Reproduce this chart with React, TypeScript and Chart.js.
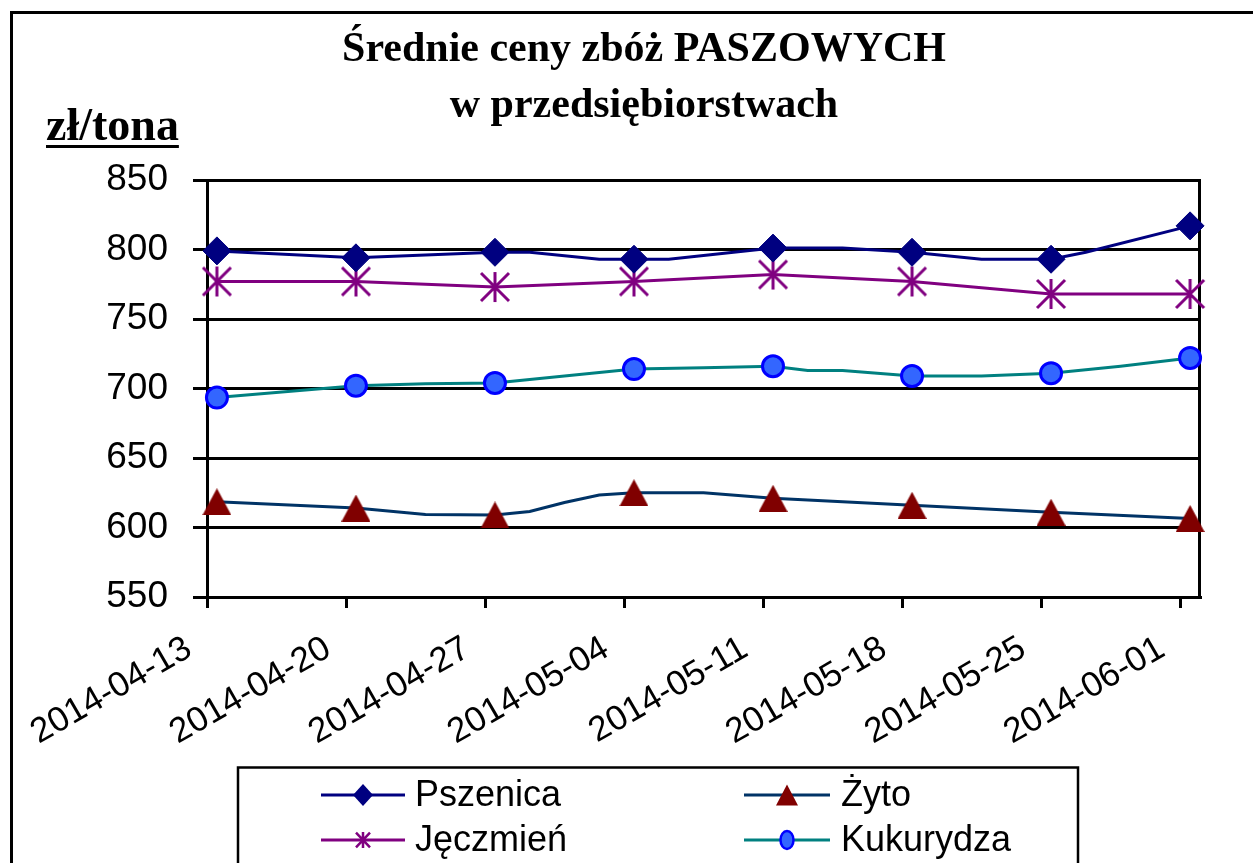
import React, { useEffect, useRef } from 'react';
import { Chart, registerables } from 'chart.js';

Chart.register(...registerables);

// ---- data ----
const dateLabels = ['2014-04-13', '2014-04-20', '2014-04-27', '2014-05-04', '2014-05-11', '2014-05-18', '2014-05-25', '2014-06-01'];
const yTickValues = [550, 600, 650, 700, 750, 800, 850];
const seriesNames = ['Pszenica', 'Żyto', 'Jęczmień', 'Kukurydza'];

// weekly values (markers), zł/tona
const pszenica = [799, 794, 798, 793, 801, 798, 793, 817];
const zyto = [618.5, 614, 609, 625, 621, 616, 611, 606.5];
const jeczmien = [777, 777, 773, 777, 782, 777, 768, 768];
const kukurydza = [693.5, 702, 704, 714, 716, 709, 711, 722];

// visible bends of the lines between markers: [week position, value]
const pszenicaBends = [[2.25, 798], [2.75, 793], [3.25, 793], [4.5, 801], [5.5, 793], [6.25, 798]];
const zytoBends = [[1.5, 609.3], [2.25, 611.5], [2.5, 618], [2.75, 623.3], [3.25, 625], [3.5, 625]];
const jeczmienBends: number[][] = [];
const kukurydzaBends = [[1.5, 703.5], [3.5, 715], [4.25, 713], [4.5, 713], [5.5, 709], [6.5, 716]];

const DAY = 86400000;
const baseTime = Date.parse(dateLabels[0]);
const dayOf = (d: string) => (Date.parse(d) - baseTime) / DAY;

function buildPoints(weekly: number[], bends: number[][]) {
  // a date axis: each value sits in the middle of its day slot
  const pts = weekly.map((v, i) => ({ x: dayOf(dateLabels[i]) + 0.5, y: v, m: 1 }));
  bends.forEach(([w, v]) => pts.push({ x: w * 7 + 0.5, y: v, m: 0 }));
  return pts.sort((a, b) => a.x - b.x);
}

// ---- marker drawing helpers ----
function pathTriangle(g: CanvasRenderingContext2D, cx: number, cy: number, w: number, h: number, color: string) {
  g.save();
  g.fillStyle = color;
  g.beginPath();
  g.moveTo(cx, cy - h / 2);
  g.lineTo(cx + w / 2, cy + h / 2);
  g.lineTo(cx - w / 2, cy + h / 2);
  g.closePath();
  g.fill();
  g.restore();
}
function pathAsterisk(g: CanvasRenderingContext2D, cx: number, cy: number, hx: number, hy: number, color: string, lw: number) {
  g.save();
  g.strokeStyle = color;
  g.lineWidth = lw;
  g.beginPath();
  g.moveTo(cx, cy - hy);
  g.lineTo(cx, cy + hy);
  g.moveTo(cx - hx, cy - hy * 0.93);
  g.lineTo(cx + hx, cy + hy * 0.93);
  g.moveTo(cx + hx, cy - hy * 0.93);
  g.lineTo(cx - hx, cy + hy * 0.93);
  g.stroke();
  g.restore();
}
function pathDiamond(g: CanvasRenderingContext2D, cx: number, cy: number, rx: number, ry: number, color: string) {
  g.save();
  g.fillStyle = color;
  g.beginPath();
  g.moveTo(cx, cy - ry);
  g.lineTo(cx + rx, cy);
  g.lineTo(cx, cy + ry);
  g.lineTo(cx - rx, cy);
  g.closePath();
  g.fill();
  g.restore();
}
function pathEllipse(g: CanvasRenderingContext2D, cx: number, cy: number, rx: number, ry: number, fill: string, stroke: string, lw: number) {
  g.save();
  g.fillStyle = fill;
  g.strokeStyle = stroke;
  g.lineWidth = lw;
  g.beginPath();
  g.ellipse(cx, cy, rx, ry, 0, 0, Math.PI * 2);
  g.fill();
  g.stroke();
  g.restore();
}
function markerImage(w: number, h: number, draw: (g: CanvasRenderingContext2D) => void) {
  const c = document.createElement('canvas');
  c.width = w;
  c.height = h;
  draw(c.getContext('2d') as CanvasRenderingContext2D);
  return c;
}

const COLORS = {
  pszenica: '#000080',
  zytoLine: '#003366',
  zytoMark: '#800000',
  jeczmien: '#800080',
  kukLine: '#008080',
  kukFill: '#3366FF',
  kukStroke: '#0000FF',
};

const SANS = "'Liberation Sans', Arial, sans-serif";
const SERIF = "'Liberation Serif', 'Times New Roman', serif";

const decor = {
  id: 'decor',
  beforeDraw(chart: any) {
    const g = chart.ctx as CanvasRenderingContext2D;
    g.save();
    g.fillStyle = '#fff';
    g.fillRect(0, 0, chart.width, chart.height);
    g.restore();
  },
  beforeDatasetsDraw(chart: any) {
    const g = chart.ctx as CanvasRenderingContext2D;
    const a = chart.chartArea;
    g.save();
    g.strokeStyle = '#000';
    g.lineWidth = 3;
    g.beginPath();
    g.moveTo(a.right - 0.5, a.top - 1);
    g.lineTo(a.right - 0.5, a.bottom + 1);
    g.stroke();
    g.restore();
  },
  afterDraw(chart: any) {
    const g = chart.ctx as CanvasRenderingContext2D;
    g.save();
    // outer frame
    g.strokeStyle = '#000';
    g.lineWidth = 3;
    g.strokeRect(11.5, 12.5, 1400, 1000);

    // unit label
    g.fillStyle = '#000';
    g.font = `bold 46px ${SERIF}`;
    g.textBaseline = 'alphabetic';
    g.textAlign = 'left';
    const unit = 'zł/tona';
    g.fillText(unit, 46, 140);
    const uw = g.measureText(unit).width;
    g.fillRect(46, 145, uw, 3);

    // legend box
    g.lineWidth = 2.5;
    g.strokeRect(238, 767.5, 840, 300);
    const ds = chart.data.datasets;
    g.font = `36px ${SANS}`;
    g.textBaseline = 'middle';
    ds.forEach((d: any, i: number) => {
      const col = i % 2;
      const row = Math.floor(i / 2);
      const x0 = col ? 744 : 321;
      const x1 = col ? 830 : 405;
      const y = row ? 840 : 795;
      g.strokeStyle = d.borderColor;
      g.lineWidth = 3;
      g.beginPath();
      g.moveTo(x0, y);
      g.lineTo(x1, y);
      g.stroke();
      const cx = (x0 + x1) / 2;
      if (i === 0) pathDiamond(g, cx, y, 10, 11, COLORS.pszenica);
      if (i === 1) pathTriangle(g, cx, y, 22, 21, COLORS.zytoMark);
      if (i === 2) pathAsterisk(g, cx, y, 7, 8, COLORS.jeczmien, 2.5);
      if (i === 3) pathEllipse(g, cx, y, 6.5, 9, COLORS.kukFill, COLORS.kukStroke, 2.5);
      g.fillStyle = '#000';
      g.fillText(d.label, col ? 841 : 415, y + 1);
    });
    g.restore();
  },
};

export default function App() {
  const ref = useRef<HTMLCanvasElement>(null);
  useEffect(() => {
    const canvas = ref.current as HTMLCanvasElement;
    const triImg = markerImage(29, 27, (g) => pathTriangle(g, 14.5, 13.5, 29, 27, COLORS.zytoMark));
    const starImg = markerImage(32, 32, (g) => pathAsterisk(g, 16, 16, 14, 15, COLORS.jeczmien, 3));
    const radius = (r: number) => (ctx: any) => (ctx.raw && ctx.raw.m ? r : 0);
    const lastDay = dayOf(dateLabels[dateLabels.length - 1]) + 1;
    const tickDays = dateLabels.map(dayOf);

    const chart = new Chart(canvas, {
      type: 'line',
      data: {
        datasets: [
          {
            label: seriesNames[0],
            data: buildPoints(pszenica, pszenicaBends),
            borderColor: COLORS.pszenica,
            borderWidth: 3,
            pointStyle: 'rectRot',
            pointRadius: radius(14),
            pointBackgroundColor: COLORS.pszenica,
            pointBorderColor: COLORS.pszenica,
            pointBorderWidth: 1,
            clip: false,
          },
          {
            label: seriesNames[1],
            data: buildPoints(zyto, zytoBends),
            borderColor: COLORS.zytoLine,
            borderWidth: 3,
            pointStyle: triImg,
            pointRadius: radius(14),
            clip: false,
          },
          {
            label: seriesNames[2],
            data: buildPoints(jeczmien, jeczmienBends),
            borderColor: COLORS.jeczmien,
            borderWidth: 3,
            pointStyle: starImg,
            pointRadius: radius(15),
            clip: false,
          },
          {
            label: seriesNames[3],
            data: buildPoints(kukurydza, kukurydzaBends),
            borderColor: COLORS.kukLine,
            borderWidth: 3,
            pointStyle: 'circle',
            pointRadius: radius(10.5),
            pointBackgroundColor: COLORS.kukFill,
            pointBorderColor: COLORS.kukStroke,
            pointBorderWidth: 3,
            clip: false,
          },
        ] as any,
      },
      options: {
        responsive: false,
        animation: false,
        events: [],
        devicePixelRatio: 1,
        layout: { padding: { left: 88, right: 53, top: 0, bottom: 0 } },
        plugins: {
          legend: { display: false },
          tooltip: { enabled: false },
          title: {
            display: true,
            text: ['Średnie ceny zbóż PASZOWYCH', 'w przedsiębiorstwach'],
            color: '#000',
            font: { family: SERIF, size: 42, weight: 'bold', lineHeight: '56px' } as any,
            padding: { top: 22, bottom: 46 },
          },
        },
        scales: {
          x: {
            type: 'linear',
            min: 0,
            max: lastDay,
            afterBuildTicks: (scale: any) => {
              scale.ticks = tickDays.map((v) => ({ value: v }));
            },
            afterFit: (scale: any) => {
              scale.height = 266;
            },
            grid: { drawOnChartArea: false, drawTicks: true, tickLength: 11, color: '#000', lineWidth: 3 },
            border: { display: true, color: '#000', width: 3 },
            ticks: {
              autoSkip: false,
              minRotation: 30,
              maxRotation: 30,
              padding: 20,
              labelOffset: -18,
              color: '#000',
              font: { family: SANS, size: 35 },
              callback: (_v: any, i: number) => dateLabels[i],
            },
          },
          y: {
            min: yTickValues[0],
            max: yTickValues[yTickValues.length - 1],
            afterFit: (scale: any) => {
              scale.width = 119;
            },
            grid: { color: '#000', lineWidth: 3, tickLength: 14, drawTicks: true },
            border: { display: true, color: '#000', width: 3 },
            ticks: {
              stepSize: yTickValues[1] - yTickValues[0],
              padding: 25,
              color: '#000',
              font: { family: SANS, size: 37 },
            },
          },
        },
      } as any,
      plugins: [decor],
    });
    return () => chart.destroy();
  }, []);

  return (
    <div style={{ position: 'absolute', left: 0, top: 0, width: 1253, height: 863 }}>
      <canvas ref={ref} width={1253} height={863} style={{ display: 'block' }} />
    </div>
  );
}
